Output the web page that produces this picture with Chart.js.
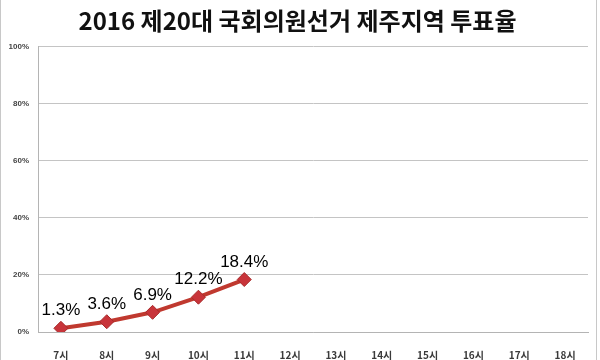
<!DOCTYPE html>
<html>
<head>
<meta charset="utf-8">
<script src="https://cdn.jsdelivr.net/npm/chart.js@4"></script>
<style>
  html, body { margin: 0; padding: 0; background: #fff; }
  #wrap { position: relative; width: 597px; height: 360px; box-sizing: border-box;
          border-left: 1px solid #c8c8c8; border-right: 1px solid #c8c8c8; }
</style>
</head>
<body>
<div id="wrap"><canvas id="chart" width="595" height="360"></canvas></div>
<script>
'use strict';

const titleText = '2016 제20대 국회의원선거 제주지역 투표율';
const hours = ['7시', '8시', '9시', '10시', '11시', '12시', '13시', '14시', '15시', '16시', '17시', '18시'];
const turnout = [1.3, 3.6, 6.9, 12.2, 18.4, null, null, null, null, null, null, null];
const yTicks = [0, 20, 40, 60, 80, 100];

// draw value labels above each point
const valueLabels = {
  id: 'valueLabels',
  afterDatasetsDraw(chart) {
    const ctx = chart.ctx;
    const meta = chart.getDatasetMeta(0);
    ctx.save();
    ctx.font = '17px "Liberation Sans Narrow", "Liberation Sans", sans-serif';
    ctx.fillStyle = '#000';
    ctx.textAlign = 'center';
    ctx.textBaseline = 'bottom';
    meta.data.forEach((pt, i) => {
      const v = turnout[i];
      if (v === null) return;
      ctx.fillText(v.toFixed(1) + '%', pt.x, pt.y - 9);
    });
    ctx.restore();
  }
};

let canvasElem = document.getElementById('chart');

new Chart(canvasElem, {
  type: 'line',
  data: {
    labels: hours,
    datasets: [{
      data: turnout,
      borderColor: '#c0392f',
      borderWidth: 4,
      backgroundColor: '#c8343a',
      pointStyle: 'rectRot',
      pointRadius: 7,
      pointBorderColor: '#a82a2a',
      pointBorderWidth: 1,
      spanGaps: false,
      tension: 0,
    }],
  },
  options: {
    responsive: false,
    animation: false,
    layout: { padding: { left: 0, right: 2, top: 0, bottom: 0 } },
    plugins: {
      legend: { display: false },
      tooltip: { enabled: false },
      title: {
        display: true,
        text: titleText,
        color: '#111',
        font: { family: '"Noto Sans CJK KR", sans-serif', size: 24, weight: 'bold' },
        padding: { top: 6, bottom: 12 },
      },
    },
    scales: {
      x: {
        offset: true,
        grid: { display: false },
        border: { color: '#b4b4b4', width: 1 },
        afterFit(axis) { axis.height = 28; },
        ticks: {
          color: '#3a3a3a',
          font: { family: '"Noto Sans CJK KR", sans-serif', size: 10, weight: 'bold' },
          padding: 9,
        },
      },
      y: {
        min: 0,
        max: 100,
        afterBuildTicks(axis) {
          axis.ticks = yTicks.map(v => ({ value: v }));
        },
        afterFit(axis) { axis.width = 37; },
        grid: { color: '#c4c4c4', drawTicks: false },
        border: { color: '#b4b4b4', width: 1 },
        ticks: {
          color: '#444',
          padding: 9,
          font: { family: '"Liberation Sans", sans-serif', size: 8, weight: 'bold' },
          callback: v => v + '%',
        },
      },
    },
  },
  plugins: [valueLabels],
});
</script>
</body>
</html>
